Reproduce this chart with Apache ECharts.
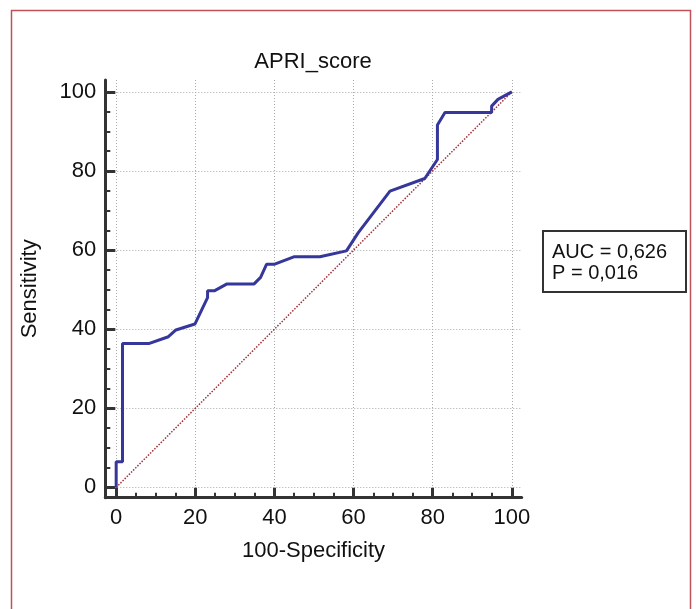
<!DOCTYPE html>
<html>
<head>
<meta charset="utf-8">
<script src="https://cdn.jsdelivr.net/npm/echarts@6/dist/echarts.min.js"></script>
<style>
  html, body { margin: 0; padding: 0; background: #fff; }
  #chart { width: 696px; height: 609px; }
</style>
</head>
<body>
<div id="chart"></div>
<script>
// ROC curve points (100-Specificity, Sensitivity)
let fprValues = [0, 0, 1.6, 1.6, 8.4, 13.2, 15.1, 19.9, 23.1, 23.1, 24.8, 27.9, 34.8, 36.5, 38.0, 39.9, 44.9, 51.5, 58.2, 61.2, 69.2, 78.0, 81.2, 81.2, 83.1, 94.9, 94.9, 96.5, 100];
let tprValues = [0, 6.5, 6.5, 36.4, 36.4, 38.1, 39.8, 41.3, 48.0, 49.7, 49.7, 51.4, 51.4, 53.1, 56.4, 56.4, 58.3, 58.3, 59.8, 64.4, 74.9, 78.1, 82.9, 91.6, 94.8, 94.8, 96.4, 98.1, 100];
let refX = [0, 100];
let refY = [0, 100];
let majorTicks = [0, 20, 40, 60, 80, 100];
let minorTicks = [0, 5, 10, 15, 20, 25, 30, 35, 40, 45, 50, 55, 60, 65, 70, 75, 80, 85, 90, 95, 100];
let statLines = ['AUC = 0,626', 'P = 0,016'];

let rocData = fprValues.map((x, i) => [x, tprValues[i]]);
let refData = refX.map((x, i) => [x, refY[i]]);

let myChart = echarts.init(document.getElementById('chart'));
let font = 'Liberation Sans, Arial, sans-serif';

function majorAxis(pos, name, gap, min, max) {
    return {
        type: 'value',
        position: pos,
        min: min,
        max: max,
        name: name,
        nameLocation: 'middle',
        nameGap: gap,
        nameTextStyle: { fontFamily: font, fontSize: 22, color: '#111', lineHeight: 22 },
        axisLine: { show: true, onZero: false, lineStyle: { color: '#333', width: 3 } },
        axisTick: { show: true, inside: true, length: 10, customValues: majorTicks,
            lineStyle: { color: '#333', width: 3 } },
        axisLabel: { show: true, margin: 9, customValues: majorTicks,
            fontFamily: font, fontSize: 22, color: '#111', lineHeight: 22 },
        splitLine: { show: true, lineStyle: { color: '#aaa', width: 1, type: [1, 2] } }
    };
}
function minorAxis(pos, min, max) {
    return {
        type: 'value',
        position: pos,
        min: min,
        max: max,
        axisLine: { show: false, onZero: false },
        axisTick: { show: true, inside: true, length: 5, customValues: minorTicks,
            lineStyle: { color: '#333', width: 2 } },
        axisLabel: { show: false },
        splitLine: { show: false }
    };
}

let option = {
    backgroundColor: '#fff',
    animation: false,
    title: {
        text: 'APRI_score',
        left: 313,
        top: 51,
        padding: 0,
        textAlign: 'center',
        textStyle: { fontFamily: font, fontSize: 22, fontWeight: 'normal', color: '#111', lineHeight: 22 }
    },
    grid: { left: 105.3, right: 174.3, top: 80, bottom: 111.3, containLabel: false },
    xAxis: [majorAxis('bottom', '100-Specificity', 42.7, -2.75, 102.5), minorAxis('bottom', -2.75, 102.5)],
    yAxis: [majorAxis('left', 'Sensitivity', 64, -2.6, 103), minorAxis('left', -2.6, 103)],
    graphic: [{
        type: 'rect',
        shape: { x: 11.5, y: 10.5, width: 679, height: 700 },
        style: { fill: 'none', stroke: '#c0505a', lineWidth: 1.5 },
        silent: true
    }, {
        type: 'rect',
        shape: { x: 543, y: 231, width: 143, height: 61 },
        style: { fill: '#fff', stroke: '#333', lineWidth: 2 }
    }, {
        type: 'text',
        x: 552,
        y: 241.6,
        style: {
            text: statLines.join('\n'),
            fontFamily: font,
            fontSize: 20,
            lineHeight: 21.5,
            fill: '#111',
            verticalAlign: 'top'
        }
    }],
    series: [{
        type: 'line',
        data: refData,
        symbol: 'none',
        lineStyle: { color: '#a0303a', width: 1.5, type: [1.5, 1.5] },
        z: 2
    }, {
        type: 'line',
        data: rocData,
        symbol: 'none',
        lineStyle: { color: '#35379a', width: 3 },
        z: 3
    }]
};
myChart.setOption(option);
</script>
</body>
</html>
